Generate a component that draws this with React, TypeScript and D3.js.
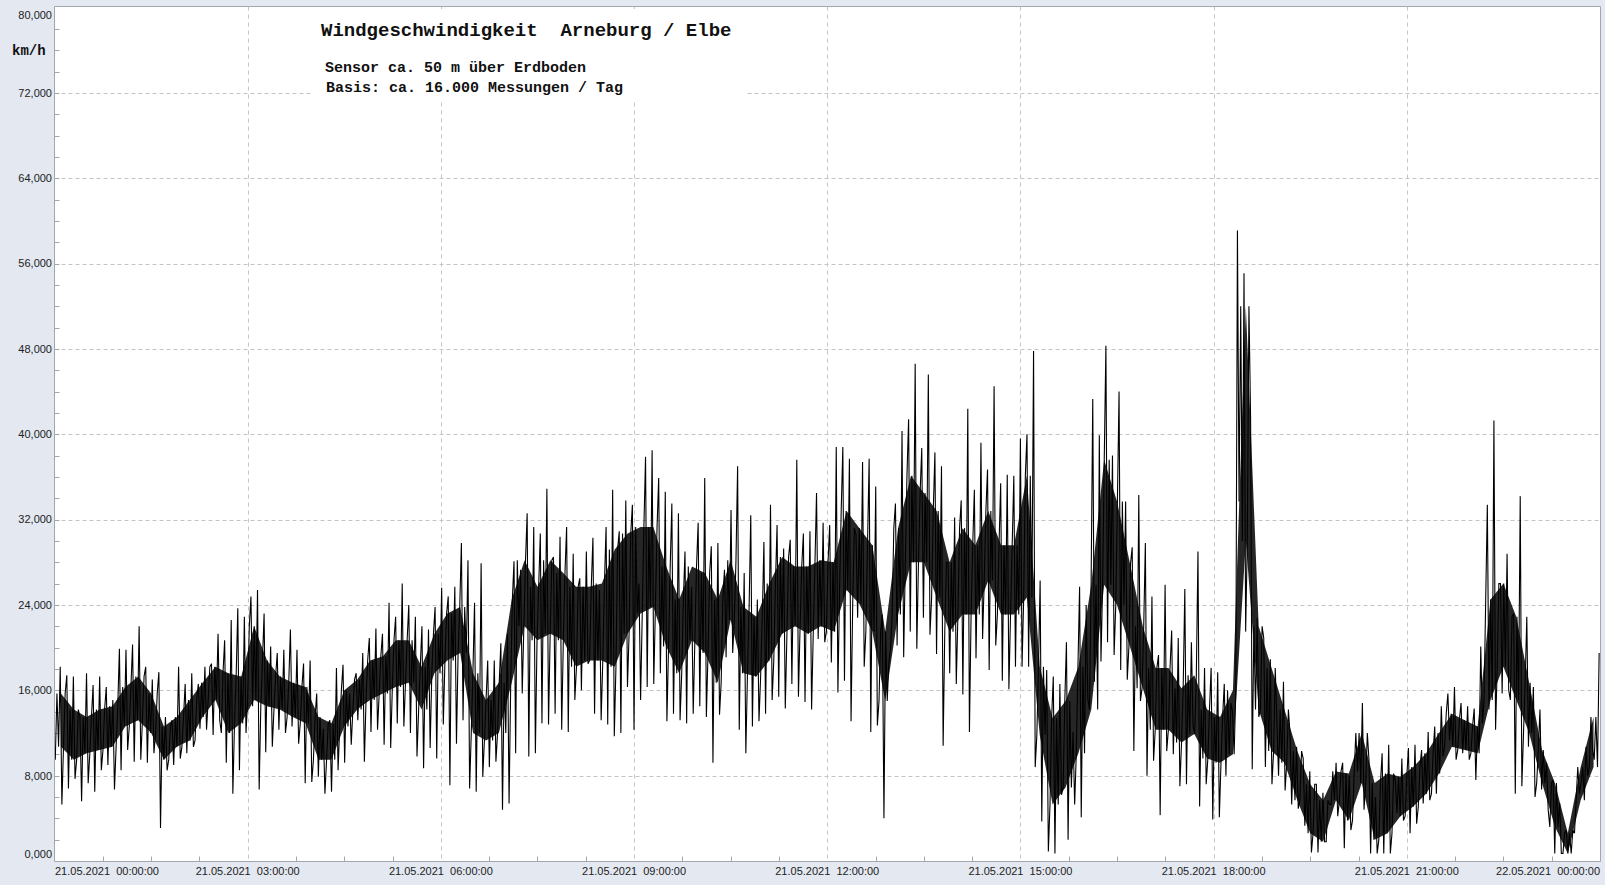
import React from "react";
import * as d3 from "d3";

const TITLE = "Windgeschwindigkeit  Arneburg / Elbe";
const SUB1 = "Sensor ca. 50 m über Erdboden";
const SUB2 = "Basis: ca. 16.000 Messungen / Tag";
const UNIT = "km/h";

const xTickHours = [0, 3, 6, 9, 12, 15, 18, 21, 24];
const xTickLabels = [
  "21.05.2021  00:00:00",
  "21.05.2021  03:00:00",
  "21.05.2021  06:00:00",
  "21.05.2021  09:00:00",
  "21.05.2021  12:00:00",
  "21.05.2021  15:00:00",
  "21.05.2021  18:00:00",
  "21.05.2021  21:00:00",
  "22.05.2021  00:00:00",
];
const yTicks = [0, 8, 16, 24, 32, 40, 48, 56, 64, 72, 80];

// spike maxima per ~6 min interval (km/h), 21.05. 00:00 -> 22.05. 00:00
const peakHigh = [
  18.2, 17.4, 17.3, 13.5, 17.6, 16.5, 17.3, 16.3, 15.1, 19.9, 19.8, 20.3, 22.0, 18.2, 17.0, 17.7, 13.5, 13.2, 18.2, 16.6,
  17.6, 16.6, 18.2, 18.5, 21.3, 20.7, 22.6, 23.7, 22.9, 24.8, 25.4, 23.2, 20.1, 19.5, 19.8, 21.7, 19.8, 18.5, 18.8,
  15.7, 12.4, 13.2, 18.1, 18.4, 15.7, 17.6, 19.5, 20.9, 21.8, 21.3, 24.2, 22.9, 26.0, 24.0, 22.9, 22.0, 21.7, 23.8, 25.6,
  24.8, 25.7, 29.8, 28.2, 24.2, 27.9, 18.8, 18.8, 20.4, 21.3, 28.1, 27.3, 32.6, 31.3, 30.7, 34.9, 28.5, 30.4, 31.3,
  28.8, 26.5, 29.0, 30.3, 25.4, 31.3, 34.8, 30.9, 33.8, 33.4, 26.0, 37.9, 38.5, 35.9, 34.6, 33.5, 32.6, 29.0, 25.7, 31.7,
  35.9, 29.5, 29.8, 27.3, 32.9, 37.0, 27.0, 32.4, 24.5, 29.9, 33.4, 31.5, 29.3, 30.1, 37.6, 30.7, 30.9, 34.5, 31.7,
  31.5, 38.8, 38.8, 37.7, 30.6, 37.4, 37.7, 35.1, 23.1, 18.6, 33.5, 40.3, 41.4, 46.6, 38.7, 45.6, 38.3, 37.0, 28.0, 32.2,
  33.8, 42.4, 34.8, 39.2, 36.7, 44.5, 35.4, 36.2, 36.1, 39.6, 40.0, 47.8, 26.3, 17.9, 17.3, 16.6, 20.5, 12.1, 25.7,
  24.0, 43.3, 39.9, 48.3, 38.0, 44.0, 33.7, 29.4, 34.3, 29.8, 24.8, 19.3, 25.9, 21.6, 20.9, 25.5, 20.5, 29.0, 18.1, 18.1,
  17.7, 16.6, 14.8, 59.1, 55.1, 41.5, 22.8, 20.9, 18.9, 13.1, 16.8, 11.9, 10.7, 9.6, 8.4, 7.2, 6.4, 5.3, 9.2,
  9.2, 8.0, 12.0, 14.8, 9.5, 6.0, 10.1, 10.9, 7.6, 9.6, 10.6, 10.9, 10.4, 12.1, 12.6, 14.5, 15.7, 16.3, 14.8, 14.5,
  14.3, 20.1, 33.4, 41.3, 26.0, 28.8, 23.2, 34.2, 22.9, 16.3, 14.2, 9.2, 7.6, 5.4, 2.9, 2.9, 6.3, 10.7, 10.4, 19.5,
];

// spike minima per ~6 min interval (km/h)
const peakLow = [
  9.5, 5.3, 6.8, 7.7, 5.6, 7.3, 6.5, 8.5, 9.0, 6.7, 8.5, 10.4, 9.3, 9.5, 9.2, 10.1, 3.1, 8.5, 9.0, 9.6,
  10.1, 10.7, 12.4, 12.3, 11.8, 13.2, 9.2, 6.3, 8.5, 12.0, 14.5, 6.7, 10.2, 10.7, 12.3, 12.0, 12.6, 11.0, 7.3,
  7.4, 7.9, 6.3, 6.5, 8.5, 9.2, 10.9, 13.2, 9.3, 12.1, 12.3, 10.9, 10.6, 12.9, 12.6, 12.0, 9.8, 8.7, 10.6, 9.6,
  12.8, 7.1, 11.0, 13.2, 6.8, 6.5, 7.9, 8.8, 9.3, 4.8, 5.4, 10.1, 15.7, 9.8, 10.1, 12.9, 12.8, 13.8, 12.3,
  12.1, 15.1, 16.0, 18.5, 13.8, 13.2, 12.8, 11.7, 12.0, 16.3, 12.3, 15.1, 16.3, 16.6, 17.6, 13.1, 13.8, 13.2, 12.9, 13.8,
  14.5, 13.5, 9.2, 13.7, 19.1, 19.5, 12.3, 10.1, 12.6, 13.1, 13.8, 15.1, 15.4, 14.3, 16.6, 15.4, 14.9, 14.2, 20.8,
  20.5, 18.6, 15.8, 16.9, 13.1, 22.8, 18.2, 12.1, 12.7, 4.0, 19.9, 20.2, 19.1, 21.5, 19.9, 22.8, 21.2, 19.4, 10.8, 17.6,
  16.6, 15.6, 12.1, 19.0, 20.8, 17.9, 20.2, 16.9, 16.1, 18.2, 18.2, 18.2, 8.8, 3.7, 0.9, 0.7, 6.2, 2.0, 5.3,
  4.1, 15.2, 16.8, 18.7, 20.5, 19.3, 17.9, 17.0, 10.3, 15.0, 8.0, 9.4, 4.3, 10.3, 10.0, 7.0, 7.2, 12.7, 5.1, 7.2,
  3.9, 4.1, 8.0, 14.0, 33.7, 21.5, 8.6, 13.5, 8.8, 7.2, 8.0, 6.6, 5.3, 4.9, 3.3, 0.8, 0.8, 1.8, 5.3,
  4.2, 1.2, 2.9, 8.4, 4.8, 0.7, 0.7, 0.7, 0.7, 4.5, 3.8, 2.6, 3.5, 5.4, 5.7, 6.3, 9.8, 11.3, 9.5, 10.1,
  9.5, 7.6, 12.9, 14.2, 12.3, 15.7, 16.0, 6.3, 7.0, 10.7, 6.0, 6.7, 4.8, 0.7, 0.7, 0.7, 2.6, 7.3, 8.0, 9.5,
];

// dense core of the measurements per 12 min interval (km/h)
const bandHigh = [
  15.7, 14.2, 13.5, 14.2, 14.5, 16.3, 17.3, 15.7, 12.6, 13.5, 15.1, 16.7, 18.2, 17.6, 17.3, 22.0, 18.8, 17.3, 16.7, 16.3,
  13.5, 12.9, 16.0, 17.0, 18.8, 19.2, 20.7, 20.7, 18.2, 21.3, 23.2, 23.8, 17.6, 15.1, 16.7, 24.5, 28.2, 25.7, 28.2, 27.0,
  25.7, 25.7, 26.0, 29.2, 30.7, 31.3, 31.3, 27.6, 24.5, 27.6, 27.0, 24.5, 28.2, 23.8, 22.9, 26.0, 28.5, 27.6, 27.6, 28.2,
  28.0, 32.8, 31.2, 29.6, 21.5, 31.2, 36.1, 34.5, 32.8, 28.0, 31.2, 29.6, 32.8, 29.6, 29.6, 36.1, 18.2, 13.4, 15.0, 18.2,
  25.9, 37.6, 33.7, 27.9, 22.0, 18.1, 18.1, 16.2, 17.4, 14.2, 13.5, 16.0, 52.0, 22.0, 18.1, 14.2, 10.3, 7.2, 5.7, 8.4,
  8.2, 12.0, 7.3, 8.2, 7.9, 8.8, 10.1, 12.0, 13.8, 13.2, 12.6, 24.5, 26.0, 22.9, 16.7, 10.4, 7.3, 2.6, 8.8, 13.5,
];
const bandLow = [
  10.7, 9.5, 10.1, 10.4, 10.7, 12.6, 13.2, 12.0, 9.5, 10.7, 11.3, 13.5, 15.1, 12.0, 12.9, 15.1, 14.5, 14.2, 13.5, 12.9,
  9.5, 9.5, 12.6, 14.2, 15.1, 15.7, 16.3, 16.7, 14.2, 17.6, 18.8, 19.5, 12.0, 11.3, 12.0, 16.7, 22.0, 20.7, 21.3, 20.7,
  18.2, 18.8, 18.8, 18.2, 21.3, 23.2, 23.8, 20.1, 17.6, 20.7, 19.5, 16.7, 22.6, 17.6, 17.3, 18.8, 21.3, 22.0, 21.3, 22.0,
  21.5, 25.4, 24.1, 21.5, 15.0, 23.1, 28.0, 28.0, 24.7, 21.5, 23.1, 23.1, 26.3, 23.1, 23.1, 24.7, 11.8, 5.3, 6.9, 10.1,
  14.2, 25.9, 24.0, 20.1, 16.2, 12.3, 12.3, 11.1, 11.9, 9.6, 9.2, 10.0, 30.0, 14.2, 10.3, 9.2, 5.7, 2.6, 1.8, 5.7,
  3.8, 7.3, 2.0, 2.6, 4.2, 5.1, 6.3, 8.2, 10.7, 10.4, 10.1, 15.1, 18.2, 15.1, 12.0, 7.3, 3.2, 0.7, 5.7, 8.8,
];

const BG = "#e4e8f1";
const AXIS = "#a3a6ad";
const GRID = "#c4c4c4";

export default function App() {
  const W = 1605;
  const H = 885;
  const x = d3.scaleLinear().domain([0, 24]).range([54.5, 1600]);
  const y = d3.scaleLinear().domain([0, 80]).range([861, 7.5]);

  const nP = peakHigh.length;
  const nB = bandHigh.length;
  const stepP = 24 / nP;
  const stepB = 24 / nB;

  // each measurement interval: extreme low, dense-core top, dense-core bottom, extreme high
  const zig: [number, number][] = [];
  for (let i = 0; i < nP; i++) {
    const j = Math.min(nB - 1, Math.floor(((i + 0.5) * nB) / nP));
    const t0 = i * stepP;
    const odd = i % 2 === 1;
    zig.push([t0 + 0.12 * stepP, peakLow[i]]);
    zig.push([t0 + 0.37 * stepP, odd ? bandLow[j] : bandHigh[j]]);
    zig.push([t0 + 0.62 * stepP, odd ? bandHigh[j] : bandLow[j]]);
    zig.push([t0 + 0.87 * stepP, peakHigh[i]]);
  }
  const line = d3
    .line<[number, number]>()
    .x((d) => x(d[0]))
    .y((d) => y(d[1]));

  const bandData = bandHigh.map((h, j) => ({ t: (j + 0.5) * stepB, hi: h, lo: bandLow[j] }));
  const area = d3
    .area<{ t: number; hi: number; lo: number }>()
    .x((d) => x(d.t))
    .y0((d) => y(d.lo))
    .y1((d) => y(d.hi));

  const fmt = (v: number) => d3.format(".3f")(v).replace(".", ",");
  const minorY = d3.range(2, 80, 2).filter((v) => v % 8 !== 0);
  const minorX = d3.range(0.75, 24, 0.75).filter((h) => Math.abs(h / 3 - Math.round(h / 3)) > 1e-6);
  const px = (v: number) => Math.round(v) + 0.5;

  const plotLeft = 54.5;
  const plotRight = 1600.5;
  const plotTop = 6.5;
  const plotBottom = 861.5;

  return (
    <svg
      width={W}
      height={H}
      style={{ position: "absolute", left: 0, top: 0, display: "block" }}
      xmlns="http://www.w3.org/2000/svg"
    >
      <rect x={0} y={0} width={W} height={H} fill={BG} />
      <rect x={plotLeft} y={plotTop} width={plotRight - plotLeft} height={plotBottom - plotTop} fill="#ffffff" />

      {/* grid */}
      {yTicks
        .filter((v) => v > 0 && v < 80)
        .map((v) => (
          <line key={"gy" + v} x1={plotLeft} x2={plotRight} y1={px(y(v))} y2={px(y(v))} stroke={GRID} strokeDasharray="4,3" />
        ))}
      {xTickHours
        .filter((h) => h > 0 && h < 24)
        .map((h) => (
          <line key={"gx" + h} x1={px(x(h))} x2={px(x(h))} y1={plotTop} y2={plotBottom} stroke={GRID} strokeDasharray="4,4" />
        ))}

      {/* minor ticks */}
      {minorY.map((v) => (
        <line key={"my" + v} x1={plotLeft} x2={plotLeft + 5} y1={px(y(v))} y2={px(y(v))} stroke={AXIS} />
      ))}
      {yTicks
        .filter((v) => v > 0 && v < 80)
        .map((v) => (
          <line key={"My" + v} x1={plotLeft} x2={plotLeft + 5} y1={px(y(v))} y2={px(y(v))} stroke={AXIS} />
        ))}
      {minorX.map((h) => (
        <line key={"mx" + h} x1={px(x(h))} x2={px(x(h))} y1={plotBottom - 5} y2={plotBottom} stroke={AXIS} />
      ))}

      {/* title box */}
      <rect x={312} y={9} width={434} height={91} fill="#ffffff" />
      <text
        x={321}
        y={36}
        fontFamily="'Liberation Mono', 'Courier New', monospace"
        fontWeight="bold"
        fontSize={19}
        fill="#111"
        xmlSpace="preserve"
        style={{ whiteSpace: "pre" }}
      >
        {TITLE}
      </text>
      <text x={325} y={72} fontFamily="'Liberation Mono', 'Courier New', monospace" fontWeight="bold" fontSize={15} fill="#111">
        {SUB1}
      </text>
      <text x={326} y={92} fontFamily="'Liberation Mono', 'Courier New', monospace" fontWeight="bold" fontSize={15} fill="#111">
        {SUB2}
      </text>

      {/* data */}
      <path d={area(bandData) || ""} fill="#000" fillOpacity={0.85} stroke="none" />
      <path d={line(zig) || ""} fill="none" stroke="#000" strokeWidth={1.1} strokeLinejoin="miter" strokeMiterlimit={2} />

      {/* frame */}
      <line x1={plotLeft} x2={plotRight} y1={plotTop} y2={plotTop} stroke={AXIS} />
      <line x1={plotRight} x2={plotRight} y1={plotTop} y2={plotBottom} stroke={AXIS} />
      <line x1={plotLeft} x2={plotLeft} y1={plotTop} y2={plotBottom} stroke={AXIS} />
      <line x1={plotLeft} x2={plotRight} y1={plotBottom} y2={plotBottom} stroke={AXIS} />

      {/* y labels */}
      {yTicks.map((v) => {
        let cy = y(v);
        if (v === 80) cy = 15;
        if (v === 0) cy = 854;
        return (
          <text
            key={"yl" + v}
            x={52}
            y={cy}
            dy="0.35em"
            textAnchor="end"
            fontFamily="'Liberation Sans', Arial, sans-serif"
            fontSize={11}
            fill="#222"
          >
            {fmt(v)}
          </text>
        );
      })}
      <text x={12} y={55} fontFamily="'Liberation Mono', 'Courier New', monospace" fontWeight="bold" fontSize={14} fill="#111">
        {UNIT}
      </text>

      {/* x labels */}
      {xTickHours.map((h, i) => {
        const first = i === 0;
        const last = i === xTickHours.length - 1;
        return (
          <text
            key={"xl" + h}
            x={first ? 55 : last ? 1600 : x(h)}
            y={875}
            textAnchor={first ? "start" : last ? "end" : "middle"}
            fontFamily="'Liberation Sans', Arial, sans-serif"
            fontSize={11}
            fill="#222"
            xmlSpace="preserve"
            style={{ whiteSpace: "pre" }}
          >
            {xTickLabels[i]}
          </text>
        );
      })}
    </svg>
  );
}
